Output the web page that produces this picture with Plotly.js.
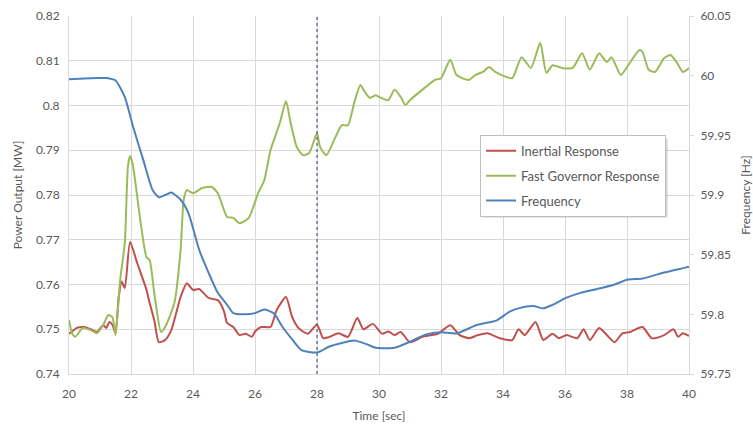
<!DOCTYPE html>
<html>
<head>
<meta charset="utf-8">
<script src="https://cdn.plot.ly/plotly-3.0.1.min.js"></script>
<style>html,body{margin:0;padding:0;background:#fff;}#chart{width:753px;height:425px;}</style>
</head>
<body>
<div id="chart"></div>
<script>
// Inertial Response [MW]
const tInertial = [
 20, 20.1, 20.25, 20.5, 20.7, 20.9, 21.1, 21.2, 21.3, 21.4,
 21.5, 21.6, 21.7, 21.8, 21.97, 22.2, 22.5, 22.6, 22.75, 22.9,
 23.1, 23.3, 23.6, 23.8, 24.0, 24.2, 24.5, 24.8, 25.0, 25.1,
 25.3, 25.5, 25.7, 25.9, 26.0, 26.2, 26.5, 26.7, 27.0, 27.2,
 27.4, 27.7, 28.0, 28.2, 28.4, 28.7, 29.0, 29.3, 29.5, 29.8,
 30.1, 30.3, 30.5, 30.7, 31.0, 31.4, 31.9, 32.3, 32.6, 32.9,
 33.2, 33.5, 33.9, 34.3, 34.5, 34.7, 35.05, 35.3, 35.6, 35.8,
 36.05, 36.4, 36.6, 36.8, 37.1, 37.35, 37.6, 37.85, 38.1, 38.5,
 38.8, 39.2, 39.5, 39.65, 39.8, 40];
const inertial = [
 0.749, 0.7495, 0.7503, 0.7505, 0.750, 0.7494, 0.7509, 0.7503, 0.7516, 0.751,
 0.7491, 0.757, 0.7606, 0.7592, 0.7695, 0.7648, 0.7588, 0.7559, 0.752, 0.7471,
 0.7476, 0.7498, 0.7572, 0.7603, 0.7588, 0.759, 0.757, 0.7565, 0.754, 0.7514,
 0.7505, 0.7487, 0.749, 0.7483, 0.7495, 0.7505, 0.7505, 0.7543, 0.7572, 0.7527,
 0.7503, 0.749, 0.751, 0.748, 0.7483, 0.7491, 0.7483, 0.7525, 0.750, 0.7512,
 0.749, 0.7495, 0.7487, 0.7494, 0.7471, 0.7483, 0.749, 0.7509, 0.7487, 0.748,
 0.7487, 0.7491, 0.748, 0.7476, 0.750, 0.7487, 0.7516, 0.7476, 0.749, 0.748,
 0.7487, 0.748, 0.750, 0.7476, 0.7503, 0.7487, 0.7471, 0.7491, 0.7494, 0.7505,
 0.748, 0.7487, 0.750, 0.7483, 0.7491, 0.7485];

// Fast Governor Response [MW]
const tGovernor = [
 20, 20.1, 20.2, 20.45, 20.7, 20.9, 21.1, 21.27, 21.4, 21.5,
 21.65, 21.8, 21.9, 21.97, 22.05, 22.3, 22.5, 22.6, 22.75, 22.97,
 23.1, 23.4, 23.6, 23.7, 23.8, 24.0, 24.3, 24.6, 24.8, 25.1,
 25.3, 25.5, 25.8, 26.1, 26.3, 26.5, 26.8, 27.0, 27.15, 27.35,
 27.55, 27.75, 28.0, 28.1, 28.3, 28.6, 28.8, 29.0, 29.2, 29.4,
 29.5, 29.7, 29.9, 30.0, 30.3, 30.5, 30.7, 30.85, 31.0, 31.5,
 31.8, 32.0, 32.3, 32.5, 32.9, 33.1, 33.35, 33.55, 33.75, 34.1,
 34.3, 34.6, 34.9, 35.2, 35.4, 35.6, 35.9, 36.25, 36.55, 36.8,
 37.1, 37.35, 37.5, 37.8, 38.0, 38.4, 38.5, 38.7, 38.9, 39.2,
 39.4, 39.6, 39.8, 40];
const governor = [
 0.7521, 0.7491, 0.7483, 0.7503, 0.7498, 0.7491, 0.7509, 0.7532, 0.7527, 0.7487,
 0.761, 0.7693, 0.7863, 0.7887, 0.7871, 0.7744, 0.7661, 0.7655, 0.7581, 0.7494,
 0.7505, 0.7559, 0.7677, 0.7789, 0.7811, 0.7804, 0.7816, 0.7818, 0.7804, 0.7751,
 0.7749, 0.7737, 0.7749, 0.7804, 0.7833, 0.790, 0.7961, 0.801, 0.7961, 0.7907,
 0.7889, 0.7894, 0.7938, 0.7907, 0.7889, 0.793, 0.7956, 0.7956, 0.8006, 0.8046,
 0.8035, 0.8017, 0.8023, 0.8019, 0.8012, 0.8035, 0.8019, 0.8001, 0.8012, 0.8041,
 0.8057, 0.8061, 0.8102, 0.8068, 0.8057, 0.8068, 0.8075, 0.8086, 0.8075, 0.8064,
 0.8061, 0.8108, 0.8084, 0.814, 0.8073, 0.809, 0.8084, 0.8084, 0.8117, 0.808,
 0.8117, 0.8097, 0.8108, 0.8068, 0.8086, 0.8124, 0.812, 0.808, 0.8075, 0.8106,
 0.8113, 0.8097, 0.8075, 0.8084];

// Frequency [Hz]
const tFreq = [
 20, 20.9, 21.2, 21.5, 21.8, 22.07, 22.4, 22.7, 22.9, 23.1,
 23.3, 23.6, 23.85, 24.2, 24.5, 24.8, 25.1, 25.3, 25.7, 26.0,
 26.3, 26.6, 26.9, 27.2, 27.5, 28.0, 28.4, 28.8, 29.2, 29.6,
 29.9, 30.5, 31.0, 31.5, 32.0, 32.5, 33.15, 33.8, 34.2, 34.5,
 34.97, 35.3, 35.6, 36.05, 36.5, 37.0, 37.6, 38.0, 38.5, 39.2, 40];
const frequency = [
 59.997, 59.998, 59.998, 59.996, 59.982, 59.957, 59.929, 59.904, 59.898, 59.900,
 59.902, 59.896, 59.885, 59.854, 59.835, 59.818, 59.808, 59.801, 59.800, 59.801,
 59.804, 59.801, 59.789, 59.779, 59.770, 59.768, 59.773, 59.776, 59.778, 59.775,
 59.772, 59.772, 59.777, 59.783, 59.785, 59.784, 59.791, 59.795, 59.802, 59.805,
 59.807, 59.805, 59.808, 59.814, 59.818, 59.821, 59.825, 59.829, 59.830, 59.835, 59.840];

const markerTime = 28;

const FONT = 'Lato, "Liberation Sans", sans-serif';
const GREY = '#595959';

const lineStyle = (c) => ({color: c, width: 2, shape: 'spline', smoothing: 0.6});

const traces = [
  {x: tInertial, y: inertial, name: 'Inertial Response', type: 'scatter', mode: 'lines',
   line: lineStyle('#C0504D'), legendgroup: 'a'},
  {x: tGovernor, y: governor, name: 'Fast Governor Response', type: 'scatter', mode: 'lines',
   line: lineStyle('#9BBB59'), legendgroup: 'b'},
  {x: tFreq, y: frequency, name: 'Frequency', type: 'scatter', mode: 'lines', yaxis: 'y2',
   line: lineStyle('#4F81BD'), legendgroup: 'c'}
];

// legend shadow (paper coords computed from plot area 69..689 x, 16..374 y)
const px2x = (p) => (p - 69) / 620;
const px2y = (p) => (374 - p) / 358;

const layout = {
  width: 753, height: 425,
  margin: {l: 69, r: 64, t: 16, b: 51},
  paper_bgcolor: '#fff', plot_bgcolor: '#fff',
  font: {family: FONT, size: 12, color: GREY},
  showlegend: true,
  legend: {
    x: 0.663, y: 0.668, xanchor: 'left', yanchor: 'top',
    bgcolor: '#fff', bordercolor: '#BFBFBF', borderwidth: 1,
    font: {family: FONT, size: 13, color: GREY},
    traceorder: 'grouped', tracegroupgap: 5
  },
  xaxis: {
    range: [20, 40], dtick: 2, tick0: 20,
    showgrid: true, gridcolor: '#D9D9D9', gridwidth: 1,
    zeroline: false, showline: true, linecolor: '#D9D9D9',
    ticks: 'outside', ticklen: 8, tickcolor: 'rgba(0,0,0,0)', ticklabelstandoff: 1,
    tickfont: {size: 12, color: GREY},
    title: {text: 'Time [sec]', font: {size: 12, color: GREY}, standoff: 11}
  },
  yaxis: {
    range: [0.74, 0.82], dtick: 0.01, tick0: 0.74,
    showgrid: true, gridcolor: '#D9D9D9', gridwidth: 1,
    zeroline: false, showline: true, linecolor: '#D9D9D9',
    ticks: '', ticklabelstandoff: 6, tickfont: {size: 12, color: GREY},
    title: {text: 'Power Output [MW]', font: {size: 12, color: GREY}, standoff: 10}
  },
  yaxis2: {
    range: [59.75, 60.05], dtick: 0.05, tick0: 59.75,
    overlaying: 'y', side: 'right',
    showgrid: false, zeroline: false, showline: true, linecolor: '#D9D9D9',
    ticks: 'outside', ticklen: 4, tickcolor: '#D9D9D9', ticklabelstandoff: 4,
    tickfont: {size: 12, color: GREY},
    title: {text: 'Frequency [Hz]', font: {size: 12, color: GREY}, standoff: 36}
  },
  shapes: [
    {type: 'line', xref: 'x', yref: 'paper', x0: markerTime, x1: markerTime, y0: 0, y1: 1,
     line: {color: '#4A5A85', width: 1.2, dash: 'dot'}, layer: 'above'},
    {type: 'rect', xref: 'paper', yref: 'paper', x0: px2x(483), x1: px2x(668), y0: px2y(139), y1: px2y(218),
     fillcolor: 'rgba(0,0,0,0.10)', line: {width: 0}, layer: 'above'},
    {type: 'rect', xref: 'paper', yref: 'paper', x0: px2x(482), x1: px2x(666.5), y0: px2y(138), y1: px2y(216.5),
     fillcolor: 'rgba(0,0,0,0.12)', line: {width: 0}, layer: 'above'}
  ]
};

Plotly.newPlot('chart', traces, layout, {staticPlot: true, displayModeBar: false});
</script>
</body>
</html>
